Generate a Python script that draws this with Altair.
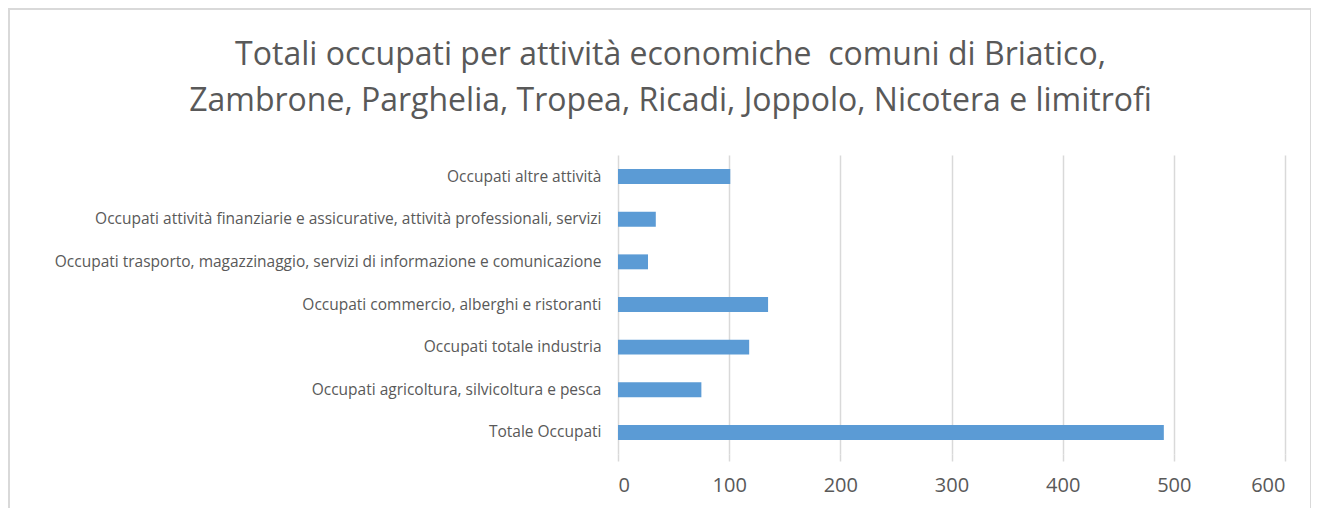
import altair as alt
import pandas as pd

categories = [
    "Occupati altre attività",
    "Occupati attività finanziarie e assicurative, attività professionali, servizi",
    "Occupati trasporto, magazzinaggio, servizi di informazione e comunicazione",
    "Occupati commercio, alberghi e ristoranti",
    "Occupati totale industria",
    "Occupati agricoltura, silvicoltura e pesca",
    "Totale Occupati",
]
values = [101, 34, 27, 135, 118, 75, 491]
title_lines = [
    "Totali occupati per attività economiche \u00a0comuni di Briatico,",
    "Zambrone, Parghelia, Tropea, Ricadi, Joppolo, Nicotera e limitrofi",
]

df = pd.DataFrame({"cat": categories, "val": values})
FONT = "Open Sans"

bars = alt.Chart(df).mark_bar(color="#5b9bd5").encode(
    x=alt.X("val:Q", scale=alt.Scale(domain=[0, 600]),
            axis=alt.Axis(values=[0, 100, 200, 300, 400, 500, 600], title=None,
                          domain=False, ticks=True, tickColor="#d9d9d9", tickSize=7,
                          tickWidth=1.5,
                          grid=True, gridColor="#d9d9d9", gridWidth=1.5,
                          labelFontSize=20, labelColor="#595959", labelFont=FONT,
                          labelPadding=14)),
    y=alt.Y("cat:N", sort=categories,
            scale=alt.Scale(paddingInner=0.65, paddingOuter=0.33),
            axis=alt.Axis(title=None, domain=False, ticks=False, grid=False,
                          labelFontSize=15.5, labelColor="#595959", labelFont=FONT,
                          labelPadding=17, labelLimit=700)),
)

border = alt.Chart(df).mark_rect(fill=None, stroke="#d9d9d9", strokeWidth=2).encode(
    x=alt.value(-609), x2=alt.value(693), y=alt.value(-146), y2=alt.value(520)
)

chart = alt.layer(border, bars).properties(
    width=667, height=299,
    title=alt.TitleParams(title_lines, fontSize=32, font=FONT, fontWeight="normal",
                          color="#595959", anchor="middle", dx=-281, offset=0, dy=110,
                          lineHeight=46),
    autosize=alt.AutoSizeParams(type="none"),
    padding={"left": 610, "top": 147, "right": 26, "bottom": 60},
).configure_view(stroke=None)

chart.save("out.html", embed_options={"renderer": "svg", "actions": False})
